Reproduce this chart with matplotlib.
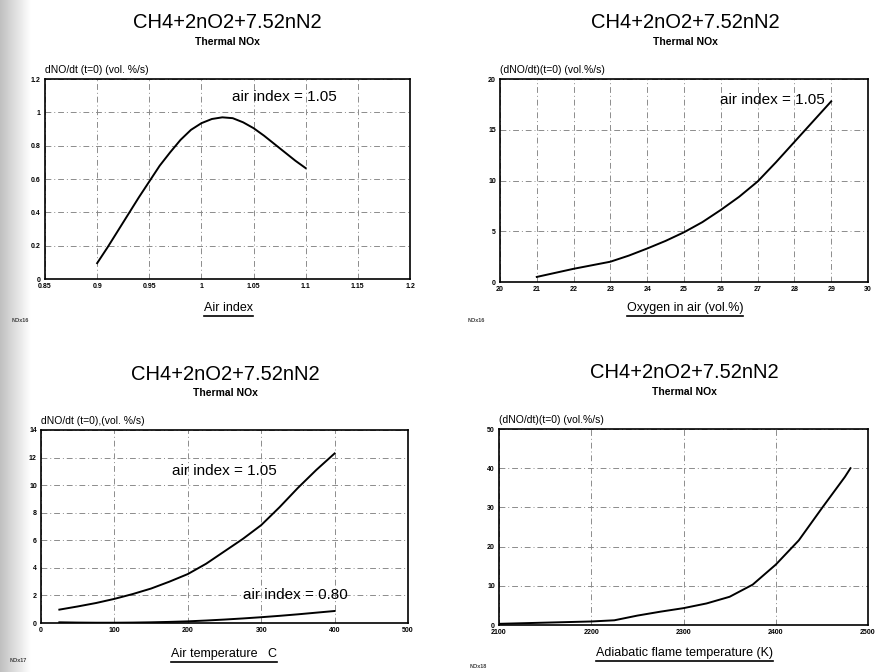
import numpy as np
import matplotlib
matplotlib.use("Agg")
import matplotlib.pyplot as plt

plt.rcParams['font.family'] = ['Liberation Sans', 'DejaVu Sans']

# Panel 1: air index
air_index = [0.9, 0.91, 0.92, 0.93, 0.94, 0.95, 0.96, 0.97, 0.98, 0.99, 1.0,
             1.01, 1.02, 1.03, 1.04, 1.05, 1.06, 1.07, 1.08, 1.09, 1.1]
rate_air_index = [0.095, 0.19, 0.29, 0.39, 0.49, 0.585, 0.68, 0.76, 0.835, 0.895, 0.935,
                  0.96, 0.97, 0.965, 0.94, 0.905, 0.86, 0.81, 0.76, 0.71, 0.665]

# Panel 2: oxygen in air
oxygen = [21, 21.5, 22, 22.5, 23, 23.5, 24, 24.5, 25, 25.5, 26, 26.5, 27, 27.5, 28, 28.5, 29]
rate_oxygen = [0.5, 0.9, 1.3, 1.65, 2.0, 2.6, 3.3, 4.05, 4.9, 5.9, 7.1, 8.4, 9.9, 11.8, 13.8, 15.8, 17.8]

# Panel 3: air temperature, two air indices
air_temp = [25, 50, 75, 100, 125, 150, 175, 200, 225, 250, 275, 300, 325, 350, 375, 400]
rate_temp_105 = [0.97, 1.2, 1.45, 1.75, 2.1, 2.5, 3.0, 3.55, 4.3, 5.2, 6.1, 7.1, 8.4, 9.8, 11.1, 12.3]
rate_temp_080 = [0.05, 0.03, 0.02, 0.02, 0.03, 0.05, 0.08, 0.12, 0.18, 0.25, 0.33, 0.42, 0.52, 0.63, 0.75, 0.87]

# Panel 4: adiabatic flame temperature
flame_temp = [2100, 2150, 2200, 2225, 2250, 2275, 2300, 2325, 2350, 2375, 2400, 2425, 2450, 2475, 2481]
rate_flame = [0.3, 0.6, 0.9, 1.2, 2.4, 3.4, 4.3, 5.5, 7.2, 10.3, 15.4, 21.6, 29.8, 37.8, 40.0]

title = 'CH4+2nO2+7.52nN2'
subtitle = 'Thermal NOx'

fig = plt.figure(figsize=(8.76, 6.72), dpi=100)
W, H = 876.0, 672.0

# scan shadow on the left edge
bg = fig.add_axes([0, 0, 0.035, 1], zorder=-5)
grad = np.linspace(0.75, 1.0, 64)[None, :]
bg.imshow(grad, cmap='gray', vmin=0, vmax=1, aspect='auto', extent=[0, 1, 0, 1])
bg.axis('off')


def box(l, t, r, b):
    return [l / W, 1 - b / H, (r - l) / W, (b - t) / H]


def setup(ax, xlim, ylim, xticks, xlabels, yticks, ylabels):
    ax.set_xlim(xlim)
    ax.set_ylim(ylim)
    ax.set_xticks(xticks)
    ax.set_xticklabels(xlabels, fontsize=5, fontweight='bold')
    ax.set_yticks(yticks)
    ax.set_yticklabels(ylabels, fontsize=5, fontweight='bold')
    ax.tick_params(length=0, pad=3)
    ax.grid(True, color='0.55', lw=0.7, linestyle=(0, (6, 3, 1, 3)))
    for s in ax.spines.values():
        s.set_linewidth(1.2)


def header(cx, ty, ylab, lx, ly):
    fig.text(cx / W, 1 - ty / H, title, ha='center', va='center', fontsize=14.5)
    fig.text(cx / W, 1 - (ty + 19) / H, subtitle, ha='center', va='center',
             fontsize=7.5, fontweight='bold')
    fig.text(lx / W, 1 - ly / H, ylab, ha='left', va='center', fontsize=7.5)


xlabel_texts = []


def xlab(cx, y, s):
    t = fig.text(cx / W, 1 - y / H, s, ha='center', va='center', fontsize=9)
    xlabel_texts.append(t)


# ---- panel 1
ax1 = fig.add_axes(box(45, 79, 410, 279))
setup(ax1, (0.85, 1.2), (0, 1.2),
      [0.85, 0.9, 0.95, 1.0, 1.05, 1.1, 1.15, 1.2],
      ['0.85', '0.9', '0.95', '1', '1.05', '1.1', '1.15', '1.2'],
      [0, 0.2, 0.4, 0.6, 0.8, 1.0, 1.2],
      ['0', '0.2', '0.4', '0.6', '0.8', '1', '1.2'])
ax1.plot(air_index, rate_air_index, color='black', lw=1.4)
ax1.text(1.08, 1.09, 'air index = 1.05', ha='center', va='center', fontsize=11)
header(227, 23, 'dNO/dt (t=0) (vol. %/s)', 45, 70)
xlab(228, 308, 'Air index')

# ---- panel 2
ax2 = fig.add_axes(box(500, 79, 868, 282))
setup(ax2, (20, 30), (0, 20),
      list(range(20, 31)), [str(v) for v in range(20, 31)],
      [0, 5, 10, 15, 20], ['0', '5', '10', '15', '20'])
ax2.plot(oxygen, rate_oxygen, color='black', lw=1.4)
ax2.text(27.4, 17.9, 'air index = 1.05', ha='center', va='center', fontsize=11)
header(685, 23, '(dNO/dt)(t=0) (vol.%/s)', 500, 70)
xlab(685, 308, 'Oxygen in air (vol.%)')

# ---- panel 3
ax3 = fig.add_axes(box(41, 430, 408, 623))
setup(ax3, (0, 500), (0, 14),
      [0, 100, 200, 300, 400, 500], ['0', '100', '200', '300', '400', '500'],
      [0, 2, 4, 6, 8, 10, 12, 14], ['0', '2', '4', '6', '8', '10', '12', '14'])
ax3.plot(air_temp, rate_temp_105, color='black', lw=1.4)
ax3.plot(air_temp, rate_temp_080, color='black', lw=1.4)
ax3.text(250, 11.0, 'air index = 1.05', ha='center', va='center', fontsize=11)
ax3.text(347, 2.05, 'air index = 0.80', ha='center', va='center', fontsize=11)
header(225, 374, 'dNO/dt (t=0),(vol. %/s)', 41, 421)
xlab(224, 654, 'Air temperature   C')

# ---- panel 4
ax4 = fig.add_axes(box(499, 429, 868, 625))
setup(ax4, (2100, 2500), (0, 50),
      [2100, 2200, 2300, 2400, 2500], ['2100', '2200', '2300', '2400', '2500'],
      [0, 10, 20, 30, 40, 50], ['0', '10', '20', '30', '40', '50'])
ax4.plot(flame_temp, rate_flame, color='black', lw=1.4)
header(684, 373, '(dNO/dt)(t=0) (vol.%/s)', 499, 420)
xlab(684, 653, 'Adiabatic flame temperature (K)')

# small scan footnotes
for x, y, s in [(12, 322, 'NOx16'), (468, 322, 'NOx16'), (10, 662, 'NOx17'), (470, 668, 'NOx18')]:
    fig.text(x / W, 1 - y / H, s, fontsize=4, fontweight='bold', color='0.25')

# underline the x labels
fig.canvas.draw()
r = fig.canvas.get_renderer()
for t in xlabel_texts:
    bb = t.get_window_extent(r)
    yline = (bb.y0 - 2) / H
    fig.add_artist(plt.Line2D([bb.x0 / W, bb.x1 / W], [yline, yline],
                              color='black', lw=1.2))

fig.savefig('out.png', dpi=100)
